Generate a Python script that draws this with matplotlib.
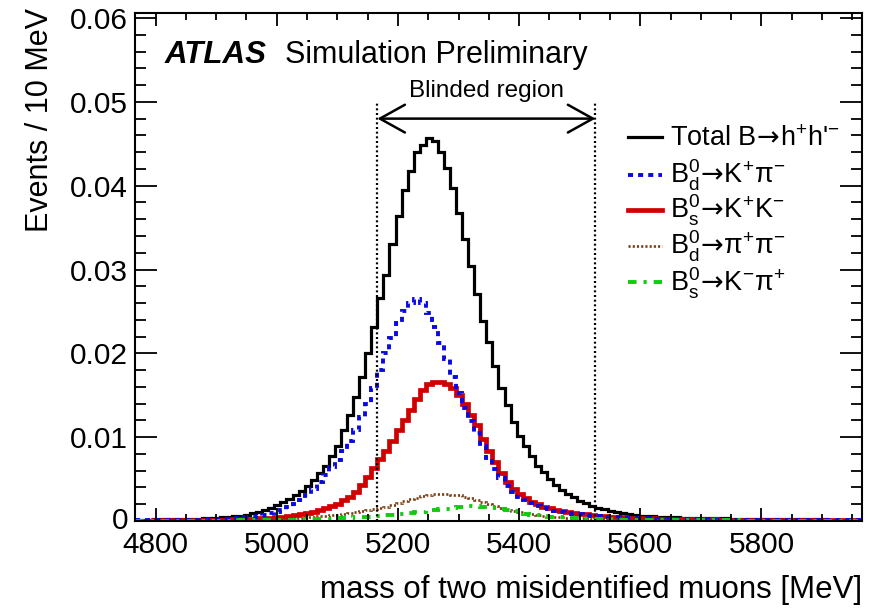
import numpy as np
import matplotlib as mpl
mpl.use('Agg')
import matplotlib.pyplot as plt
from matplotlib.lines import Line2D
from matplotlib.transforms import ScaledTranslation
from matplotlib.ticker import MultipleLocator, FixedLocator, FixedFormatter

plt.rcParams['font.family'] = ['Liberation Sans', 'DejaVu Sans']
plt.rcParams['mathtext.fontset'] = 'custom'
plt.rcParams['mathtext.rm'] = 'Liberation Sans'
plt.rcParams['mathtext.it'] = 'Liberation Sans:italic'
plt.rcParams['mathtext.cal'] = 'DejaVu Sans'
plt.rcParams['mathtext.default'] = 'regular'
plt.rcParams['mathtext.fallback'] = 'stixsans'

# 120 bins of 10 MeV, 4766 - 5966 MeV; contents in units of 1e-3 events
m_lo, m_hi, nbins = 4766, 5966, 120

total = [0.15, 0.16, 0.17, 0.18, 0.19, 0.2, 0.21, 0.22, 0.24, 0.26,
         0.28, 0.31, 0.34, 0.38, 0.43, 0.49, 0.56, 0.64, 0.74, 0.9,
         1.1, 1.32, 1.6, 1.87, 2.23, 2.67, 3.07, 3.59, 4.19, 4.9,
         5.7, 6.58, 7.78, 9.0, 10.8, 12.6, 14.8, 17.2, 20.0, 23.1,
         26.6, 29.4, 33.1, 36.4, 39.5, 41.8, 44.0, 44.8, 45.7, 45.3,
         44.0, 42.1, 39.7, 36.7, 33.6, 30.4, 27.1, 23.8, 21.4, 18.5,
         15.9, 13.8, 11.8, 10.1, 8.9, 7.7, 6.6, 5.8, 5.0, 4.3,
         3.7, 3.23, 2.83, 2.43, 2.11, 1.79, 1.6, 1.4, 1.2, 1.04,
         0.92, 0.8, 0.7, 0.64, 0.58, 0.54, 0.5, 0.47, 0.44, 0.42,
         0.40, 0.38, 0.36, 0.35, 0.34, 0.32, 0.31, 0.30, 0.29, 0.28,
         0.27, 0.26, 0.25, 0.24, 0.23, 0.22, 0.22, 0.21, 0.20, 0.20,
         0.19, 0.19, 0.18, 0.18, 0.17, 0.17, 0.16, 0.16, 0.15, 0.15]

bd_kpi = [0.08, 0.08, 0.09, 0.09, 0.1, 0.1, 0.11, 0.12, 0.13, 0.14,
          0.15, 0.17, 0.19, 0.21, 0.24, 0.28, 0.32, 0.37, 0.44, 0.52,
          0.62, 0.74, 0.9, 1.1, 1.35, 1.65, 2.05, 2.5, 3.1, 3.8,
          4.6, 5.5, 6.4, 7.3, 8.3, 9.5, 10.9, 12.4, 14.0, 15.9,
          18.0, 20.0, 21.8, 23.6, 25.0, 26.0, 26.5, 26.0, 24.8, 23.2,
          21.2, 19.3, 17.2, 15.3, 13.5, 11.9, 10.5, 9.0, 7.5, 6.2,
          5.1, 4.2, 3.5, 2.9, 2.45, 2.1, 1.8, 1.6, 1.42, 1.25,
          1.1, 0.98, 0.88, 0.78, 0.7, 0.63, 0.57, 0.52, 0.48, 0.44,
          0.4, 0.37, 0.34, 0.32, 0.3, 0.28, 0.26, 0.25, 0.24, 0.23,
          0.22, 0.21, 0.2, 0.19, 0.18, 0.17, 0.17, 0.16, 0.16, 0.15,
          0.15, 0.14, 0.14, 0.13, 0.13, 0.12, 0.12, 0.12, 0.11, 0.11,
          0.11, 0.1, 0.1, 0.1, 0.1, 0.09, 0.09, 0.09, 0.09, 0.08]

bs_kk = [0.05, 0.05, 0.05, 0.06, 0.06, 0.06, 0.07, 0.07, 0.08, 0.08,
         0.09, 0.1, 0.11, 0.12, 0.14, 0.16, 0.18, 0.2, 0.23, 0.26,
         0.3, 0.34, 0.39, 0.45, 0.52, 0.6, 0.7, 0.82, 0.96, 1.12,
         1.3, 1.52, 1.78, 2.08, 2.45, 2.9, 3.5, 4.3, 5.3, 6.3,
         7.4, 8.4, 9.5, 10.8, 12.0, 13.3, 14.5, 15.6, 16.4, 16.6,
         16.6, 16.4, 15.9, 15.0, 14.0, 12.7, 11.4, 9.8, 8.4, 7.0,
         5.7, 4.6, 3.8, 3.2, 2.7, 2.3, 1.98, 1.72, 1.5, 1.34,
         1.2, 1.07, 0.96, 0.86, 0.78, 0.7, 0.63, 0.57, 0.52, 0.48,
         0.44, 0.41, 0.38, 0.35, 0.33, 0.31, 0.29, 0.27, 0.26, 0.24,
         0.23, 0.22, 0.21, 0.2, 0.19, 0.18, 0.17, 0.17, 0.16, 0.15,
         0.15, 0.14, 0.14, 0.13, 0.13, 0.12, 0.12, 0.11, 0.11, 0.11,
         0.1, 0.1, 0.1, 0.09, 0.09, 0.09, 0.09, 0.08, 0.08, 0.08]

bd_pipi = [0.03, 0.03, 0.03, 0.03, 0.04, 0.04, 0.04, 0.04, 0.05, 0.05,
           0.05, 0.06, 0.06, 0.07, 0.08, 0.09, 0.1, 0.11, 0.12, 0.14,
           0.16, 0.18, 0.2, 0.23, 0.26, 0.3, 0.34, 0.38, 0.43, 0.48,
           0.54, 0.6, 0.67, 0.75, 0.84, 0.94, 1.05, 1.15, 1.27, 1.4,
           1.52, 1.7, 1.9, 2.1, 2.35, 2.6, 2.8, 2.95, 3.1, 3.2,
           3.25, 3.25, 3.15, 3.05, 2.9, 2.75, 2.55, 2.3, 2.05, 1.8,
           1.55, 1.35, 1.18, 1.02, 0.9, 0.8, 0.7, 0.62, 0.55, 0.5,
           0.45, 0.41, 0.37, 0.34, 0.31, 0.28, 0.26, 0.24, 0.22, 0.2,
           0.19, 0.17, 0.16, 0.15, 0.14, 0.13, 0.12, 0.11, 0.1, 0.1,
           0.09, 0.09, 0.08, 0.08, 0.08, 0.07, 0.07, 0.07, 0.06, 0.06,
           0.06, 0.06, 0.05, 0.05, 0.05, 0.05, 0.05, 0.05, 0.04, 0.04,
           0.04, 0.04, 0.04, 0.04, 0.04, 0.04, 0.04, 0.04, 0.04, 0.04]

bs_kpi = [0.02, 0.02, 0.02, 0.02, 0.02, 0.03, 0.03, 0.03, 0.03, 0.03,
          0.03, 0.03, 0.04, 0.04, 0.04, 0.05, 0.05, 0.06, 0.06, 0.07,
          0.08, 0.09, 0.1, 0.11, 0.12, 0.13, 0.15, 0.17, 0.19, 0.21,
          0.23, 0.25, 0.28, 0.31, 0.34, 0.38, 0.42, 0.46, 0.5, 0.55,
          0.6, 0.66, 0.72, 0.8, 0.88, 0.96, 1.04, 1.12, 1.2, 1.3,
          1.4, 1.48, 1.56, 1.64, 1.7, 1.74, 1.75, 1.72, 1.65, 1.55,
          1.42, 1.28, 1.14, 1.0, 0.88, 0.77, 0.68, 0.6, 0.53, 0.47,
          0.42, 0.38, 0.34, 0.31, 0.28, 0.25, 0.23, 0.21, 0.19, 0.17,
          0.16, 0.15, 0.14, 0.13, 0.12, 0.11, 0.1, 0.1, 0.09, 0.09,
          0.08, 0.08, 0.08, 0.07, 0.07, 0.07, 0.06, 0.06, 0.06, 0.06,
          0.05, 0.05, 0.05, 0.05, 0.05, 0.05, 0.04, 0.04, 0.04, 0.04,
          0.04, 0.04, 0.04, 0.04, 0.04, 0.04, 0.04, 0.04, 0.04, 0.04]

blind_lo, blind_hi = 5166, 5526

xticks = [4800, 5000, 5200, 5400, 5600, 5800]
yticks = [0, 0.01, 0.02, 0.03, 0.04, 0.05, 0.06]
ytick_labels = ['0', '0.01', '0.02', '0.03', '0.04', '0.05', '0.06']

arr = r'$\!\mathcal{\rightarrow}\!$'
labels = ['Total B' + arr + 'h$^{+}$h\'$^{-}$',
          'B$^{0}_{d}$' + arr + 'K$^{+}$π$^{-}$',
          'B$^{0}_{s}$' + arr + 'K$^{+}$K$^{-}$',
          'B$^{0}_{d}$' + arr + 'π$^{+}$π$^{-}$',
          'B$^{0}_{s}$' + arr + 'K$^{-}$π$^{+}$']

edges = np.linspace(m_lo, m_hi, nbins + 1)

W, H = 875, 608
fig = plt.figure(figsize=(W / 100, H / 100), dpi=100)
ax = fig.add_axes([135 / W, 1 - 521 / H, (862 - 135) / W, (521 - 13) / H])

styles = [
    dict(color='black', lw=2.3, ls='-'),
    dict(color='#0a0ae0', lw=2.8, ls=(0, (1.3, 1.3))),
    dict(color='#d10000', lw=3.4, ls='-'),
    dict(color='#7a3e10', lw=1.9, ls=(0, (0.8, 0.8))),
    dict(color='#10cc10', lw=2.8, ls=(0, (2.2, 1.8, 0.8, 1.8))),
]
series = [total, bd_kpi, bs_kk, bd_pipi, bs_kpi]

# total first, then red, blue, brown, green
for i in [0, 2, 1, 3, 4]:
    vals = np.array(series[i]) * 1e-3
    ax.stairs(vals, edges, baseline=None, **styles[i])

ax.set_xlim(m_lo, m_hi)
ax.set_ylim(0, 0.0606)

ax.xaxis.set_major_locator(FixedLocator(xticks))
ax.xaxis.set_minor_locator(MultipleLocator(50))
ax.yaxis.set_major_locator(FixedLocator(yticks))
ax.yaxis.set_major_formatter(FixedFormatter(ytick_labels))
ax.yaxis.set_minor_locator(MultipleLocator(0.002))

ax.tick_params(which='both', direction='in', top=True, right=True,
               width=1.3, labelsize=21.5)
ax.tick_params(axis='y', which='major', length=16, pad=5)
ax.tick_params(axis='y', which='minor', length=8)
ax.tick_params(axis='x', which='major', length=9.5, pad=7)
ax.tick_params(axis='x', which='minor', length=5)
for sp in ax.spines.values():
    sp.set_linewidth(1.5)

# nudge the "0" label up so it does not sit on "4800"
fig.canvas.draw()
zero_lab = ax.get_yticklabels()[0]
zero_lab.set_transform(zero_lab.get_transform() +
                       ScaledTranslation(0, 3 / 100, fig.dpi_scale_trans))

# blinded region
for xb in (blind_lo, blind_hi):
    ax.plot([xb, xb], [0, 0.05], color='black', lw=1.6, ls=(0, (0.9, 1.2)))
ax.annotate('', xy=(blind_lo, 0.048), xytext=(blind_hi, 0.048),
            arrowprops=dict(arrowstyle='<->, head_length=1.8, head_width=1.0',
                            lw=1.8, color='black', shrinkA=0, shrinkB=0,
                            mutation_scale=10))
ax.text((blind_lo + blind_hi) / 2, 0.0513, 'Blinded region', ha='center',
        va='center', fontsize=17.5)

fig.text(165 / W, 1 - 63 / H, 'ATLAS', fontsize=22.5, fontweight='bold',
         style='italic', va='baseline')
fig.text(285 / W, 1 - 63 / H, 'Simulation Preliminary', fontsize=22,
         va='baseline')

fig.text(40 / W, 1 - 8 / H, 'Events / 10 MeV', rotation=90, ha='center',
         va='top', fontsize=22)
fig.text(862 / W, 1 - 590 / H, 'mass of two misidentified muons [MeV]',
         ha='right', va='center', fontsize=22.5)

# legend
rows = [137, 175, 210, 246, 282]
for k in range(5):
    y = 1 - rows[k] / H
    fig.add_artist(Line2D([628 / W, 662 / W], [y, y], transform=fig.transFigure,
                          color=styles[k]['color'], lw=styles[k]['lw'],
                          ls=styles[k]['ls']))
    fig.text(670 / W, 1 - (rows[k] + 9) / H, labels[k], fontsize=19.5,
             va='baseline', ha='left')

fig.savefig('out.png', dpi=100)
